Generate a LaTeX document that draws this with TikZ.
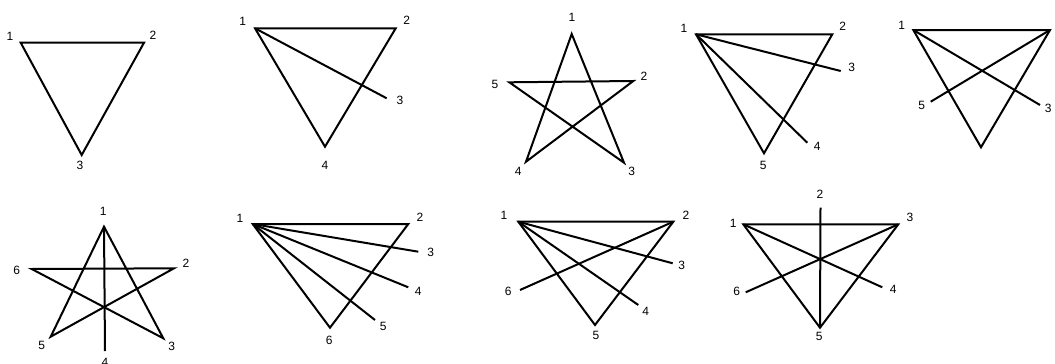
\documentclass[tikz,border=0pt]{standalone}
\usepackage{fontspec}
\setmainfont{Liberation Sans}
\begin{document}
\begin{tikzpicture}[x=1pt,y=-1pt,
  edge/.style={line width=2pt, line join=miter},
  lbl/.style={font=\fontsize{12}{12}\selectfont, inner sep=0pt}]
\useasboundingbox (0,0) rectangle (1055,364);
% ---------- panel A ----------
\coordinate (a1) at (20.7,42.7);
\coordinate (a2) at (144,42.7);
\coordinate (a3) at (81.7,155);
\draw[edge] (a1) -- (a2) -- (a3) -- cycle;
\node[lbl] (la1) at (10,36) {1};
\node[lbl] (la2) at (153,35) {2};
\node[lbl] (la3) at (80,165) {3};
% ---------- panel B ----------
\coordinate (b1) at (255,28.3);
\coordinate (b2) at (395.7,28.3);
\coordinate (b3) at (386.7,98.3);
\coordinate (b4) at (325,146.7);
\draw[edge] (b1) -- (b2) -- (b4) -- cycle;
\draw[edge] (b1) -- (b3);
\node[lbl] (lb1) at (242.7,21.7) {1};
\node[lbl] (lb2) at (406.7,20.7) {2};
\node[lbl] (lb3) at (400,100) {3};
\node[lbl] (lb4) at (325,165.7) {4};
% ---------- panel C ----------
\coordinate (c1) at (571.7,34);
\coordinate (c2) at (633.3,81);
\coordinate (c3) at (624,162.7);
\coordinate (c4) at (526,161.7);
\coordinate (c5) at (509.3,82.3);
\draw[edge] (c1) -- (c3) -- (c5) -- (c2) -- (c4) -- cycle;
\node[lbl] (lc1) at (572,17) {1};
\node[lbl] (lc2) at (644,76) {2};
\node[lbl] (lc3) at (631.7,171.7) {3};
\node[lbl] (lc4) at (518.3,171.7) {4};
\node[lbl] (lc5) at (495,84) {5};
% ---------- panel D ----------
\coordinate (d1) at (696,34.3);
\coordinate (d2) at (832.3,34.3);
\coordinate (d3) at (840.7,71);
\coordinate (d4) at (807.3,142.7);
\coordinate (d5) at (764,153.3);
\draw[edge] (d1) -- (d2) -- (d5) -- cycle;
\draw[edge] (d1) -- (d3);
\draw[edge] (d1) -- (d4);
\node[lbl] (ld1) at (684,28.3) {1};
\node[lbl] (ld2) at (842.7,26.7) {2};
\node[lbl] (ld3) at (851.7,67.3) {3};
\node[lbl] (ld4) at (817.3,146) {4};
\node[lbl] (ld5) at (763.3,165.7) {5};
% ---------- panel E ----------
\coordinate (e1) at (913.3,30);
\coordinate (e2) at (1050,30);
\coordinate (e3) at (1040,105);
\coordinate (e4) at (981,147.3);
\coordinate (e5) at (930.7,101.7);
\draw[edge] (e1) -- (e2) -- (e4) -- cycle;
\draw[edge] (e1) -- (e3);
\draw[edge] (e2) -- (e5);
\node[lbl] (le1) at (901.7,25) {1};
\node[lbl] (le3) at (1048.3,108.3) {3};
\node[lbl] (le5) at (921.7,105) {5};
% ---------- panel F ----------
\coordinate (f1) at (104,226.7);
\coordinate (f2) at (174,268.3);
\coordinate (f3) at (163.3,338.3);
\coordinate (f4) at (105,351);
\coordinate (f5) at (50.7,336.7);
\coordinate (f6) at (31.7,269);
\draw[edge] (f1) -- (f3) -- (f6) -- (f2) -- (f5) -- cycle;
\draw[edge] (f1) -- (f4);
\node[lbl] (lf1) at (103.3,211.7) {1};
\node[lbl] (lf2) at (186,263.3) {2};
\node[lbl] (lf3) at (171.7,346) {3};
\node[lbl] (lf4) at (105,362.5) {4};
\node[lbl] (lf5) at (41.7,345) {5};
\node[lbl] (lf6) at (16.7,270) {6};
% ---------- panel G ----------
\coordinate (g1) at (252.7,224);
\coordinate (g2) at (408.3,224);
\coordinate (g3) at (418.3,251.7);
\coordinate (g4) at (408.3,287.3);
\coordinate (g5) at (375,320);
\coordinate (g6) at (330,327.7);
\draw[edge] (g1) -- (g2) -- (g6) -- cycle;
\draw[edge] (g1) -- (g3);
\draw[edge] (g1) -- (g4);
\draw[edge] (g1) -- (g5);
\node[lbl] (lg1) at (240,218.3) {1};
\node[lbl] (lg2) at (420,217.3) {2};
\node[lbl] (lg3) at (430.7,252.7) {3};
\node[lbl] (lg4) at (418.3,291.7) {4};
\node[lbl] (lg5) at (383.3,326) {5};
\node[lbl] (lg6) at (329.3,340) {6};
% ---------- panel H ----------
\coordinate (h1) at (518.3,221.7);
\coordinate (h2) at (673.3,221.7);
\coordinate (h3) at (672.7,263.3);
\coordinate (h4) at (638.3,305);
\coordinate (h5) at (595,325);
\coordinate (h6) at (520,290);
\draw[edge] (h1) -- (h2) -- (h5) -- cycle;
\draw[edge] (h1) -- (h3);
\draw[edge] (h1) -- (h4);
\draw[edge] (h2) -- (h6);
\node[lbl] (lh1) at (504,215.7) {1};
\node[lbl] (lh2) at (686,215) {2};
\node[lbl] (lh3) at (681.7,265) {3};
\node[lbl] (lh4) at (645.7,311.7) {4};
\node[lbl] (lh5) at (596,335) {5};
\node[lbl] (lh6) at (508.3,291) {6};
% ---------- panel I ----------
\coordinate (i1) at (743.3,224.3);
\coordinate (i2) at (820.5,207.7);
\coordinate (i3) at (898.3,224.3);
\coordinate (i4) at (882.3,287.3);
\coordinate (i5) at (820,327.7);
\coordinate (i6) at (745.7,292.3);
\draw[edge] (i1) -- (i3) -- (i5) -- cycle;
\draw[edge] (i2) -- (i5);
\draw[edge] (i1) -- (i4);
\draw[edge] (i3) -- (i6);
\node[lbl] (li1) at (733.3,223.3) {1};
\node[lbl] (li2) at (820,194.3) {2};
\node[lbl] (li3) at (910,217.7) {3};
\node[lbl] (li4) at (893.3,289) {4};
\node[lbl] (li5) at (819.3,336.7) {5};
\node[lbl] (li6) at (736.7,291.7) {6};
\end{tikzpicture}
\end{document}
